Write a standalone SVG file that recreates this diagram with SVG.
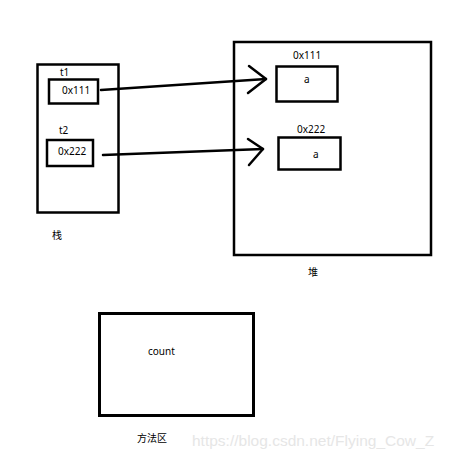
<svg xmlns="http://www.w3.org/2000/svg" width="451" height="458" viewBox="0 0 451 458">
<style>
.box{fill:none;stroke:#000;stroke-width:2.5}
.t{font-family:"Noto Sans","Noto Sans CJK SC",sans-serif;font-size:10px;fill:#000}
.c{fill:none;stroke:#000;stroke-width:2.5;stroke-linecap:round;stroke-linejoin:round}
</style>
<rect width="451" height="458" fill="#fff"/>
<g id="stack">
<rect class="box" x="37.5" y="64.5" width="81" height="148"/>
<text class="t" x="52" y="239">栈</text>
</g>
<g id="t1">
<text class="t" x="60" y="76">t1</text>
<rect class="box" x="49" y="79.5" width="49" height="24"/>
<text class="t" x="62" y="94">0x111</text>
</g>
<g id="t2">
<text class="t" x="59" y="134">t2</text>
<rect class="box" x="47" y="140" width="46" height="26"/>
<text class="t" x="58" y="155">0x222</text>
</g>
<g id="heap">
<rect class="box" x="234" y="42" width="197" height="213"/>
<text class="t" x="308" y="276">堆</text>
</g>
<g id="obj1">
<text class="t" x="293" y="59">0x111</text>
<rect class="box" x="276.5" y="66.5" width="61" height="35"/>
<text class="t" x="304" y="83">a</text>
</g>
<g id="obj2">
<text class="t" x="297" y="133">0x222</text>
<rect class="box" x="278.5" y="137.5" width="62" height="32"/>
<text class="t" x="313" y="158">a</text>
</g>
<g id="method">
<rect x="99.5" y="313.5" width="154" height="102" fill="none" stroke="#000" stroke-width="3"/>
<text class="t" x="148" y="355">count</text>
<text class="t" x="137" y="442">方法区</text>
</g>
<g id="connectors">
<path class="c" d="M101 90 L266 79"/>
<path class="c" d="M249 66 L266 79 L248 93"/>
<path class="c" d="M103 155 L263 149"/>
<path class="c" d="M248 139 L263 149 L249 165"/>
</g>
<text x="192" y="446" font-family="Liberation Sans,Arial,sans-serif" font-size="15.5" fill="#e6e6e6">https://blog.csdn.net/Flying_Cow_Z</text>
</svg>
